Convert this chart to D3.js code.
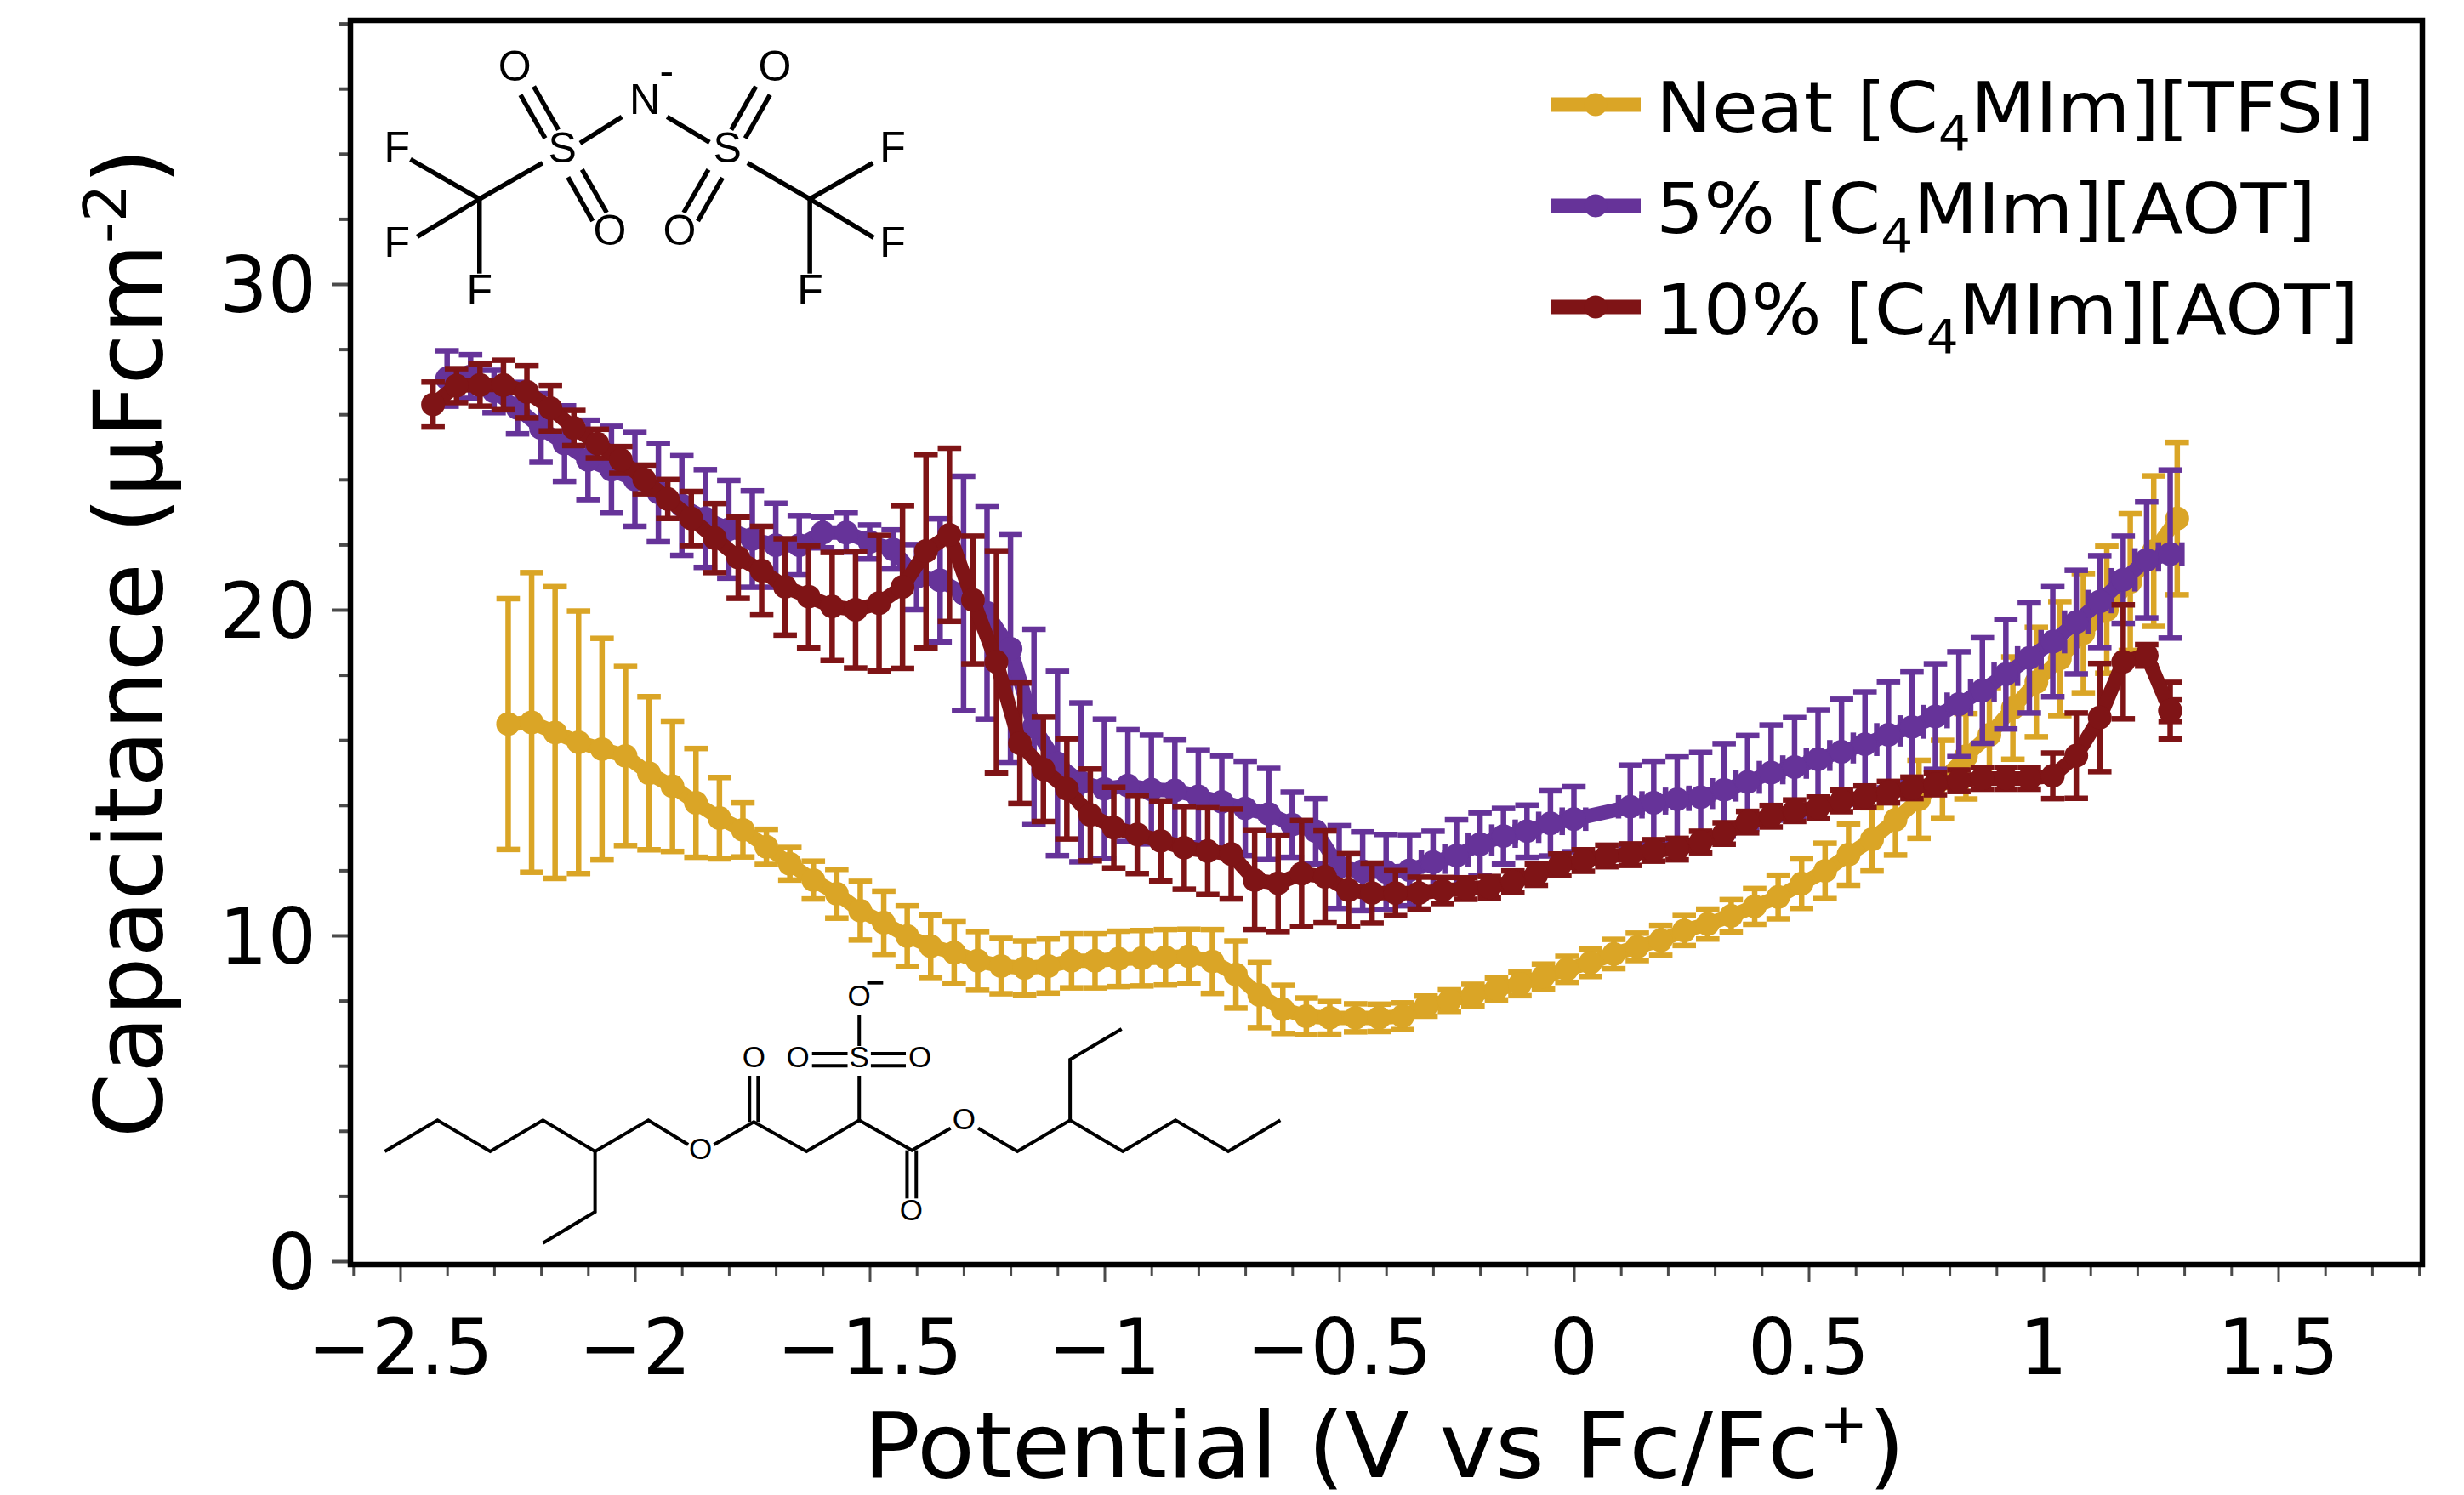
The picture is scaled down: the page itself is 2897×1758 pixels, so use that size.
<!DOCTYPE html>
<html>
  <head>
    <meta charset="utf-8">
    <title>Capacitance vs potential</title>
    <script src="https://cdn.jsdelivr.net/npm/d3@7/dist/d3.min.js"></script>
    <style>
      html,body{
        margin: 0;
        padding: 0;
        background: white;
      }
      svg{
        display: block;
      }
      text{
        font-family: "DejaVu Sans", sans-serif;
        fill: black;
      }
      .atom{
        font-family: "Liberation Sans", sans-serif;
      }
    </style>
  </head>
  <body>
    <svg id="chart" width="2897" height="1758"></svg>
  </body>
  <script>
    // values
    var neatX = [-2.27,-2.22,-2.17,-2.12,-2.07,-2.02,-1.97,-1.92,-1.87,-1.82,-1.77,-1.72,-1.67,-1.62,-1.57,-1.52,-1.47,-1.42,-1.37,-1.32,-1.27,-1.22,-1.17,-1.12,-1.07,-1.02,-0.97,-0.92,-0.87,-0.82,-0.77,-0.72,-0.67,-0.62,-0.57,-0.52,-0.465,-0.415,-0.365,-0.315,-0.265,-0.215,-0.165,-0.115,-0.065,-0.015,0.035,0.085,0.135,0.185,0.235,0.285,0.335,0.385,0.435,0.485,0.535,0.585,0.635,0.685,0.735,0.785,0.835,0.885,0.935,0.985,1.035,1.085,1.135,1.185,1.235,1.285]
    var neatY = [16.49,16.54,16.23,15.93,15.72,15.51,14.98,14.58,14.07,13.6,13.24,12.72,12.2,11.7,11.28,10.76,10.39,9.98,9.67,9.47,9.22,9.06,9.0,9.06,9.22,9.22,9.28,9.3,9.33,9.36,9.2,8.8,8.17,7.73,7.52,7.47,7.47,7.47,7.52,7.83,8.0,8.17,8.36,8.51,8.74,8.96,9.16,9.43,9.65,9.85,10.15,10.35,10.6,10.89,11.18,11.59,11.98,12.48,12.95,13.55,14.18,14.8,15.5,16.16,16.98,17.78,18.5,19.28,20.0,20.85,21.8,22.8]
    var neatErr = [3.85,4.6,4.48,4.03,3.4,2.75,2.35,2.0,1.67,1.25,0.83,0.54,0.5,0.58,0.75,0.9,0.97,0.93,0.96,0.95,0.9,0.85,0.83,0.83,0.83,0.83,0.85,0.85,0.85,0.83,0.98,1.03,1.0,0.74,0.56,0.5,0.43,0.42,0.41,0.31,0.33,0.33,0.34,0.36,0.38,0.4,0.42,0.45,0.42,0.46,0.46,0.46,0.5,0.55,0.67,0.76,0.85,0.94,0.97,1.08,1.2,1.19,1.31,1.45,1.57,1.68,1.75,1.83,1.95,2.1,2.31,2.34]

    var fivePctX = [-2.4,-2.35,-2.3,-2.25,-2.2,-2.15,-2.1,-2.05,-2.0,-1.95,-1.9,-1.85,-1.8,-1.75,-1.7,-1.65,-1.6,-1.55,-1.5,-1.45,-1.4,-1.35,-1.3,-1.25,-1.2,-1.15,-1.1,-1.05,-1.0,-0.95,-0.9,-0.85,-0.8,-0.75,-0.7,-0.65,-0.6,-0.55,-0.5,-0.45,-0.4,-0.35,-0.3,-0.25,-0.2,-0.15,-0.1,-0.05,0.0,0.12,0.17,0.22,0.27,0.32,0.37,0.42,0.47,0.52,0.57,0.62,0.67,0.72,0.77,0.82,0.87,0.92,0.97,1.02,1.07,1.12,1.17,1.22,1.27]
    var fivePctY = [27.1,27.16,26.7,26.19,25.58,25.1,24.6,24.3,24.0,23.6,23.2,22.8,22.47,22.17,21.98,21.98,22.37,22.37,22.08,21.85,21.0,20.9,20.5,19.9,18.8,16.4,15.28,14.7,14.5,14.6,14.48,14.45,14.27,14.1,13.9,13.73,13.4,13.2,12.1,11.97,11.95,12.0,12.25,12.45,12.8,13.05,13.2,13.44,13.57,13.95,14.07,14.18,14.24,14.47,14.71,15.0,15.17,15.41,15.64,15.87,16.16,16.4,16.72,17.1,17.52,18.02,18.52,19.02,19.62,20.25,20.92,21.53,21.71]
    var fivePctErr = [0.85,0.67,0.65,0.79,1.05,1.16,1.22,1.33,1.44,1.51,1.53,1.5,1.5,1.48,1.29,0.91,0.47,0.6,0.52,0.6,1.0,1.89,3.6,3.26,3.5,3.0,2.83,2.44,2.14,1.72,1.67,1.55,1.43,1.42,1.45,1.4,1.0,1.0,1.27,1.21,1.15,1.09,0.95,1.1,0.97,0.85,0.8,1.0,1.0,1.28,1.28,1.3,1.38,1.42,1.43,1.46,1.52,1.52,1.61,1.61,1.63,1.69,1.62,1.61,1.62,1.68,1.69,1.69,1.59,1.41,1.34,1.78,2.58]
    // sideways bars only show on the right part of this series
    var fivePctXErr = [0,0,0,0,0,0,0,0,0,0,0,0,0,0,0,0,0,0,0,0,0,0,0,0,0,0,0,0,0,0,0,0,0,0,0,0,0,0,0,0,0,0,0.025,0.025,0.025,0.025,0.025,0.025,0.025,0.025,0.025,0.025,0.025,0.025,0.025,0.025,0.025,0.025,0.025,0.025,0.025,0.025,0.025,0.025,0.025,0.025,0.025,0.025,0.025,0.025,0.025,0.025,0.025]

    var tenPctX = [-2.43,-2.38,-2.33,-2.28,-2.23,-2.18,-2.13,-2.08,-2.03,-1.98,-1.93,-1.88,-1.83,-1.78,-1.73,-1.68,-1.63,-1.58,-1.53,-1.48,-1.43,-1.38,-1.33,-1.28,-1.23,-1.18,-1.13,-1.08,-1.03,-0.98,-0.93,-0.88,-0.83,-0.78,-0.73,-0.68,-0.63,-0.58,-0.53,-0.48,-0.43,-0.38,-0.33,-0.28,-0.23,-0.18,-0.13,-0.08,-0.03,0.02,0.07,0.12,0.17,0.22,0.27,0.32,0.37,0.42,0.47,0.52,0.57,0.62,0.67,0.72,0.77,0.82,0.87,0.92,0.97,1.02,1.07,1.12,1.17,1.22,1.27,1.27]
    var tenPctY = [26.3,26.88,26.9,26.9,26.69,26.19,25.58,25.1,24.6,24.0,23.4,22.8,22.2,21.6,21.2,20.7,20.4,20.1,20.0,20.2,20.7,21.8,22.3,20.3,18.4,15.9,15.1,14.5,13.7,13.31,13.1,12.9,12.69,12.59,12.5,11.7,11.6,11.9,11.8,11.39,11.3,11.3,11.3,11.38,11.44,11.48,11.65,11.87,12.17,12.3,12.44,12.48,12.61,12.65,12.87,13.13,13.48,13.66,13.83,13.92,14.13,14.26,14.4,14.53,14.65,14.75,14.82,14.82,14.82,14.9,15.52,16.69,18.4,18.6,16.9,16.9]
    var tenPctErr = [0.69,0.52,0.65,0.76,0.8,0.7,0.54,0.44,0.41,0.44,0.6,0.83,1.06,1.25,1.36,1.48,1.57,1.66,1.79,2.08,2.5,2.97,2.66,1.96,3.41,1.85,1.6,1.54,1.41,1.24,1.2,1.23,1.27,1.33,1.38,1.52,1.48,1.63,1.41,1.12,0.92,0.69,0.49,0.4,0.33,0.33,0.33,0.33,0.33,0.33,0.33,0.33,0.33,0.33,0.33,0.33,0.33,0.33,0.33,0.33,0.33,0.33,0.33,0.33,0.33,0.33,0.33,0.33,0.33,0.7,1.31,1.66,1.75,0.33,0.87,0.33]

    var xMajor = [-2.5,-2,-1.5,-1,-0.5,0,0.5,1,1.5]
    var xMinor = [-2.6,-2.4,-2.3,-2.2,-2.1,-1.9,-1.8,-1.7,-1.6,-1.4,-1.3,-1.2,-1.1,-0.9,-0.8,-0.7,-0.6,-0.4,-0.3,-0.2,-0.1,0.1,0.2,0.3,0.4,0.6,0.7,0.8,0.9,1.1,1.2,1.3,1.4,1.6,1.7,1.8]
    var yMajor = [0,10,20,30]
    var yMinor = [2,4,6,8,12,14,16,18,22,24,26,28,32,34,36,38]
    var xTickLabels = ["\u22122.5","\u22122","\u22121.5","\u22121","\u22120.5","0","0.5","1","1.5"]

    var seriesNames = ["Neat", "5%", "10%"]
    var seriesColors = ["#DAA526", "#663399", "#7F1416"]
    var legendTail = ["[TFSI]", "[AOT]", "[AOT]"]

    // TFSI bonds, in crop units, converted below
    var tfsiBonds = [
      [140,472,322,612],[322,612,488,485],[158,745,322,612],[322,612,322,875],
      [697,322,587,415],[816,322,928,412],
      [430,245,495,398],[465,215,530,368],[555,535,620,690],[592,508,657,660],
      [1050,215,985,368],[1087,245,1022,398],[925,508,860,660],[962,537,897,690],
      [1028,485,1192,612],[1192,612,1358,485],[1192,612,1360,748],[1192,612,1192,875]
    ]
    var tfsiAtoms = [["O",415,140],["O",1100,140],["N",757,258],["-",815,157],["S",540,430],["S",975,430],
      ["F",105,425],["F",1410,425],["F",105,762],["F",1410,762],["F",322,930],["F",1193,930],["O",665,720],["O",849,720]]

    var aotChains = [
      [[45,672],[131,562],[217,672],[303,562],[388,672],[475,562],[540,648]],
      [[388,672],[388,885],[303,995]],
      [[582,648],[647,568],[733,672],[819,562],[905,668],[968,590]],
      [[1013,590],[1077,672],[1163,562],[1249,672],[1335,562],[1421,672],[1506,562]],
      [[1163,562],[1163,348],[1247,240]],
      [[640,405],[640,568]],[[654,405],[654,568]],
      [[819,562],[819,405]],[[819,190],[819,300]],
      [[742,327],[800,327]],[[742,370],[800,370]],[[838,327],[895,327]],[[838,370],[895,370]],
      [[897,668],[897,838]],[[912,668],[912,838]],
      [[832,77],[858,77]]
    ]
    var aotAtoms = [["O",560,660],["O",647,338],["O",719,338],["S",819,338],["O",918,338],["O",819,122],["O",990,555],["O",904,876]]

    var svg = d3.select("#chart")

    var x = d3.scaleLinear().domain([-2.5,1.5]).range([470.5,2678.5])
    var y = d3.scaleLinear().domain([0,38]).range([1483,27.6])

    // squeeze a text to a measured width, the picture is a bit stretched
    function fit(sel, px, py, width, rotate){
      var len = sel.node().getComputedTextLength()
      sel.attr("transform", "translate("+px+","+py+")"+(rotate ? " rotate(-90)" : "")+" scale("+(width/len)+",1)")
    }

    // ticks
    var tickColor = "#4a4a4a"
    function styleTicks(g, w){
      g.select(".domain").remove()
      g.selectAll(".tick line").attr("stroke", tickColor).attr("stroke-width", w)
    }

    svg.append("g").attr("transform","translate(0,1490)")
      .call(d3.axisBottom(x).tickValues(xMinor).tickSize(10).tickFormat(""))
      .call(styleTicks, 3)
    svg.append("g").attr("transform","translate(0,1490)")
      .call(d3.axisBottom(x).tickValues(xMajor).tickSize(17).tickFormat(""))
      .call(styleTicks, 3)
    svg.append("g").attr("transform","translate(409,0)")
      .call(d3.axisLeft(y).tickValues(yMinor).tickSize(11).tickFormat(""))
      .call(styleTicks, 4)
    svg.append("g").attr("transform","translate(409,0)")
      .call(d3.axisLeft(y).tickValues(yMajor).tickSize(19).tickFormat(""))
      .call(styleTicks, 4)

    svg.append("rect")
      .attr("x",412).attr("y",24).attr("width",2436).attr("height",1463)
      .attr("fill","none").attr("stroke","black").attr("stroke-width",6.5)

    // tick labels
    svg.append("g").selectAll("text").data(xMajor).enter().append("text")
      .attr("font-size",90).text(function(d,i){ return xTickLabels[i] })
      .each(function(d,i){
        var t = d3.select(this)
        var w = t.node().getComputedTextLength()*1.0
        fit(t, x(d)-w/2, 1616, w)
      })
    svg.append("g").selectAll("text").data(yMajor).enter().append("text")
      .attr("font-size",90).text(function(d){ return d })
      .each(function(d){
        var t = d3.select(this)
        var w = t.node().getComputedTextLength()*1.0
        fit(t, 372-w, y(d)+33, w)
      })

    // axis titles
    var xTitle = svg.append("text").attr("font-size",107)
    xTitle.append("tspan").text("Potential (V vs Fc/Fc")
    xTitle.append("tspan").attr("dy",-40).attr("font-size",66).text("+")
    xTitle.append("tspan").attr("dy",40).text(")")
    fit(xTitle, 1015, 1737, 1225)

    var yTitle = svg.append("text").attr("font-size",110)
    yTitle.append("tspan").text("Capacitance (\u03BCFcm")
    yTitle.append("tspan").attr("dy",-42).attr("font-size",70).text("-2")
    yTitle.append("tspan").attr("dy",42).text(")")
    fit(yTitle, 190, 1338, 1164, true)

    // series
    var series = [
      {x:neatX, y:neatY, err:neatErr},
      {x:fivePctX, y:fivePctY, err:fivePctErr, xErr:fivePctXErr},
      {x:tenPctX, y:tenPctY, err:tenPctErr}
    ]
    var line = d3.line().x(function(d){ return x(d.x) }).y(function(d){ return y(d.y) })
    var capHalf = 13.8

    series.forEach(function(s,k){
      var color = seriesColors[k]
      var rows = s.x.map(function(v,i){ return {x:v, y:s.y[i], err:s.err[i], xErr:s.xErr ? s.xErr[i] : 0} })
      var g = svg.append("g").attr("class","series")

      var bars = g.append("g").attr("stroke",color).attr("stroke-width",6.5)
        .selectAll("g").data(rows).enter().append("g")
      bars.append("line")
        .attr("x1",function(d){ return x(d.x) }).attr("x2",function(d){ return x(d.x) })
        .attr("y1",function(d){ return y(d.y-d.err) }).attr("y2",function(d){ return y(d.y+d.err) })
      bars.append("line")
        .attr("x1",function(d){ return x(d.x)-capHalf }).attr("x2",function(d){ return x(d.x)+capHalf })
        .attr("y1",function(d){ return y(d.y+d.err) }).attr("y2",function(d){ return y(d.y+d.err) })
      bars.append("line")
        .attr("x1",function(d){ return x(d.x)-capHalf }).attr("x2",function(d){ return x(d.x)+capHalf })
        .attr("y1",function(d){ return y(d.y-d.err) }).attr("y2",function(d){ return y(d.y-d.err) })

      // sideways caps
      var sideways = bars.filter(function(d){ return d.xErr > 0 })
      ;[-1,1].forEach(function(dir){
        sideways.append("line")
          .attr("x1",function(d){ return x(d.x+dir*d.xErr) }).attr("x2",function(d){ return x(d.x+dir*d.xErr) })
          .attr("y1",function(d){ return y(d.y)-capHalf }).attr("y2",function(d){ return y(d.y)+capHalf })
      })

      g.append("path").datum(rows).attr("d",line)
        .attr("fill","none").attr("stroke",color).attr("stroke-width",17).attr("stroke-linejoin","round")
      g.append("g").selectAll("circle").data(rows).enter().append("circle")
        .attr("cx",function(d){ return x(d.x) }).attr("cy",function(d){ return y(d.y) })
        .attr("r",14).attr("fill",color)
    })

    // legend
    var legendY = [123,242,361]
    var legendW = [845,776,826]
    var legend = svg.append("g").selectAll("g").data(seriesNames).enter().append("g")
    legend.append("line")
      .attr("x1",1824).attr("x2",1929)
      .attr("y1",function(d,i){ return legendY[i] }).attr("y2",function(d,i){ return legendY[i] })
      .attr("stroke",function(d,i){ return seriesColors[i] }).attr("stroke-width",17)
    legend.append("circle").attr("cx",1876).attr("cy",function(d,i){ return legendY[i] }).attr("r",13.5)
      .attr("fill",function(d,i){ return seriesColors[i] })
    legend.append("text").attr("font-size",82).each(function(d,i){
      var t = d3.select(this)
      t.append("tspan").text(d+" [C")
      t.append("tspan").attr("dy",22).attr("font-size",56).text("4")
      t.append("tspan").attr("dy",-22).text("MIm]"+legendTail[i])
      fit(t, 1947, legendY[i]+32, legendW[i])
    })

    // TFSI structure
    var tfsi = svg.append("g")
    var tX = function(v){ return 420+v/2.24 }
    var tY = function(v){ return 30+v/3 }
    tfsi.selectAll("line").data(tfsiBonds).enter().append("line")
      .attr("x1",function(d){ return tX(d[0]) }).attr("y1",function(d){ return tY(d[1]) })
      .attr("x2",function(d){ return tX(d[2]) }).attr("y2",function(d){ return tY(d[3]) })
      .attr("stroke","black").attr("stroke-width",5.5)
    tfsi.selectAll("text").data(tfsiAtoms).enter().append("text")
      .attr("class","atom").attr("font-size",50).attr("text-anchor","middle")
      .attr("x",function(d){ return tX(d[1]) }).attr("y",function(d){ return tY(d[2])+18 })
      .text(function(d){ return d[0] })

    // AOT structure
    var aot = svg.append("g")
    var aX = function(v){ return 420+v/1.3876 }
    var aY = function(v){ return 1130+v/3 }
    var bond = d3.line().x(function(d){ return aX(d[0]) }).y(function(d){ return aY(d[1]) })
    aot.selectAll("path").data(aotChains).enter().append("path")
      .attr("d",bond).attr("fill","none").attr("stroke","black").attr("stroke-width",4)
    aot.selectAll("text").data(aotAtoms).enter().append("text")
      .attr("class","atom").attr("font-size",35).attr("text-anchor","middle")
      .attr("x",function(d){ return aX(d[1]) }).attr("y",function(d){ return aY(d[2])+12.5 })
      .text(function(d){ return d[0] })
  </script>
</html>
